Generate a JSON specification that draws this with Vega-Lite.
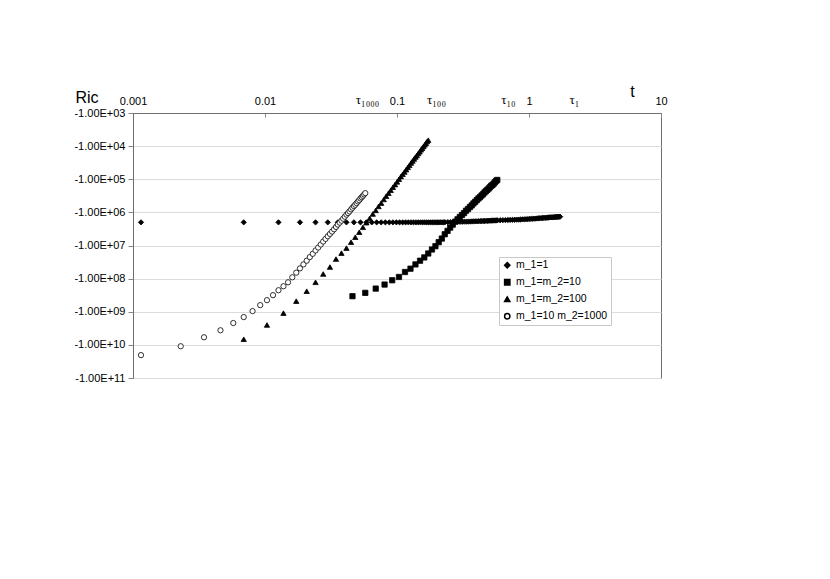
{
"$schema": "https://vega.github.io/schema/vega-lite/v6.json",
"width": 528, "height": 265,
"autosize": {"type": "none"},
"padding": {"left": 133, "top": 113, "right": 169, "bottom": 201},
"background": "white",
"config": {"font": "Liberation Sans", "view": {"stroke": "#6e6e6e", "strokeWidth": 1},
  "legend": {"strokeColor": "#c8c8c8", "fillColor": "white", "padding": 3,
      "labelFontSize": 10.5, "labelColor": "black", "labelOffset": 3.5,
      "symbolSize": 28, "rowPadding": 5}},
"data": {"values": [
{"series":"m_1=1","t":0.00115,"ric":-2.0e6},{"series":"m_1=1","t":0.0069,"ric":-2.0e6},{"series":"m_1=1","t":0.01265,"ric":-2.0e6},{"series":"m_1=1","t":0.0184,"ric":-2.0e6},{"series":"m_1=1","t":0.02415,"ric":-2.0e6},{"series":"m_1=1","t":0.0299,"ric":-2.0e6},{"series":"m_1=1","t":0.03565,"ric":-2.0e6},{"series":"m_1=1","t":0.0414,"ric":-2.0e6},{"series":"m_1=1","t":0.04715,"ric":-2.0e6},{"series":"m_1=1","t":0.0529,"ric":-2.0e6},{"series":"m_1=1","t":0.05865,"ric":-2.0e6},{"series":"m_1=1","t":0.0644,"ric":-2.0e6},{"series":"m_1=1","t":0.07015,"ric":-2.0e6},{"series":"m_1=1","t":0.0759,"ric":-2.0e6},{"series":"m_1=1","t":0.08165,"ric":-2.0e6},{"series":"m_1=1","t":0.0874,"ric":-2.0e6},{"series":"m_1=1","t":0.09315,"ric":-2.0e6},{"series":"m_1=1","t":0.0989,"ric":-2.0e6},{"series":"m_1=1","t":0.10465,"ric":-2.0e6},{"series":"m_1=1","t":0.1104,"ric":-2.0e6},{"series":"m_1=1","t":0.11615,"ric":-2.0e6},{"series":"m_1=1","t":0.1219,"ric":-2.0e6},{"series":"m_1=1","t":0.12765,"ric":-2.0e6},{"series":"m_1=1","t":0.1334,"ric":-2.0e6},{"series":"m_1=1","t":0.13915,"ric":-2.0e6},{"series":"m_1=1","t":0.1449,"ric":-2.0e6},{"series":"m_1=1","t":0.15065,"ric":-2.0e6},{"series":"m_1=1","t":0.1564,"ric":-2.0e6},{"series":"m_1=1","t":0.16215,"ric":-2.0e6},{"series":"m_1=1","t":0.1679,"ric":-2.0e6},{"series":"m_1=1","t":0.17365,"ric":-2.0e6},{"series":"m_1=1","t":0.1794,"ric":-2.0e6},{"series":"m_1=1","t":0.18515,"ric":-2.0e6},{"series":"m_1=1","t":0.1909,"ric":-2.0e6},{"series":"m_1=1","t":0.19665,"ric":-2.0e6},{"series":"m_1=1","t":0.2024,"ric":-2.0e6},{"series":"m_1=1","t":0.20815,"ric":-2.0e6},{"series":"m_1=1","t":0.2139,"ric":-2.0e6},{"series":"m_1=1","t":0.21965,"ric":-2.0e6},{"series":"m_1=1","t":0.2254,"ric":-2.0e6},{"series":"m_1=1","t":0.23115,"ric":-1.98e6},
{"series":"m_1=1","t":0.24265,"ric":-1.97e6},{"series":"m_1=1","t":0.25415,"ric":-1.96e6},{"series":"m_1=1","t":0.26565,"ric":-1.95e6},{"series":"m_1=1","t":0.27715,"ric":-1.94e6},{"series":"m_1=1","t":0.28865,"ric":-1.93e6},{"series":"m_1=1","t":0.30015,"ric":-1.92e6},{"series":"m_1=1","t":0.31165,"ric":-1.92e6},{"series":"m_1=1","t":0.32315,"ric":-1.91e6},{"series":"m_1=1","t":0.33465,"ric":-1.91e6},{"series":"m_1=1","t":0.34615,"ric":-1.9e6},{"series":"m_1=1","t":0.35765,"ric":-1.89e6},{"series":"m_1=1","t":0.36915,"ric":-1.88e6},{"series":"m_1=1","t":0.38065,"ric":-1.87e6},{"series":"m_1=1","t":0.39215,"ric":-1.86e6},{"series":"m_1=1","t":0.40365,"ric":-1.86e6},{"series":"m_1=1","t":0.41515,"ric":-1.85e6},{"series":"m_1=1","t":0.42665,"ric":-1.84e6},{"series":"m_1=1","t":0.43815,"ric":-1.83e6},{"series":"m_1=1","t":0.44965,"ric":-1.82e6},{"series":"m_1=1","t":0.46115,"ric":-1.82e6},{"series":"m_1=1","t":0.47265,"ric":-1.81e6},{"series":"m_1=1","t":0.48415,"ric":-1.8e6},{"series":"m_1=1","t":0.49565,"ric":-1.79e6},{"series":"m_1=1","t":0.50715,"ric":-1.78e6},{"series":"m_1=1","t":0.51865,"ric":-1.78e6},{"series":"m_1=1","t":0.53015,"ric":-1.77e6},{"series":"m_1=1","t":0.54165,"ric":-1.76e6},{"series":"m_1=1","t":0.55315,"ric":-1.76e6},{"series":"m_1=1","t":0.56465,"ric":-1.75e6},{"series":"m_1=1","t":0.57615,"ric":-1.74e6},
{"series":"m_1=1","t":0.6049,"ric":-1.73e6},{"series":"m_1=1","t":0.63365,"ric":-1.72e6},{"series":"m_1=1","t":0.6624,"ric":-1.71e6},{"series":"m_1=1","t":0.69115,"ric":-1.7e6},{"series":"m_1=1","t":0.7199,"ric":-1.69e6},{"series":"m_1=1","t":0.74865,"ric":-1.68e6},{"series":"m_1=1","t":0.7774,"ric":-1.67e6},{"series":"m_1=1","t":0.80615,"ric":-1.66e6},{"series":"m_1=1","t":0.8349,"ric":-1.65e6},{"series":"m_1=1","t":0.86365,"ric":-1.64e6},{"series":"m_1=1","t":0.8924,"ric":-1.63e6},{"series":"m_1=1","t":0.92115,"ric":-1.62e6},{"series":"m_1=1","t":0.9499,"ric":-1.61e6},{"series":"m_1=1","t":0.97865,"ric":-1.6e6},{"series":"m_1=1","t":1.0074,"ric":-1.58e6},{"series":"m_1=1","t":1.03615,"ric":-1.57e6},{"series":"m_1=1","t":1.0649,"ric":-1.56e6},{"series":"m_1=1","t":1.09365,"ric":-1.55e6},{"series":"m_1=1","t":1.1224,"ric":-1.54e6},{"series":"m_1=1","t":1.15115,"ric":-1.52e6},{"series":"m_1=1","t":1.1799,"ric":-1.51e6},{"series":"m_1=1","t":1.20865,"ric":-1.5e6},{"series":"m_1=1","t":1.2374,"ric":-1.49e6},{"series":"m_1=1","t":1.26615,"ric":-1.48e6},{"series":"m_1=1","t":1.2949,"ric":-1.47e6},{"series":"m_1=1","t":1.32365,"ric":-1.46e6},{"series":"m_1=1","t":1.3524,"ric":-1.45e6},{"series":"m_1=1","t":1.38115,"ric":-1.44e6},{"series":"m_1=1","t":1.4099,"ric":-1.43e6},{"series":"m_1=1","t":1.43865,"ric":-1.42e6},{"series":"m_1=1","t":1.4674,"ric":-1.41e6},{"series":"m_1=1","t":1.49615,"ric":-1.41e6},{"series":"m_1=1","t":1.5249,"ric":-1.4e6},{"series":"m_1=1","t":1.55365,"ric":-1.39e6},{"series":"m_1=1","t":1.5824,"ric":-1.38e6},{"series":"m_1=1","t":1.61115,"ric":-1.38e6},{"series":"m_1=1","t":1.6399,"ric":-1.37e6},{"series":"m_1=1","t":1.66865,"ric":-1.36e6},{"series":"m_1=1","t":1.6974,"ric":-1.35e6},{"series":"m_1=1","t":1.7204,"ric":-1.35e6},
{"series":"m_1=m_2=10","t":0.046,"ric":-3.39e8},{"series":"m_1=m_2=10","t":0.0575,"ric":-2.69e8},{"series":"m_1=m_2=10","t":0.069,"ric":-2.0e8},{"series":"m_1=m_2=10","t":0.0805,"ric":-1.51e8},{"series":"m_1=m_2=10","t":0.092,"ric":-1.12e8},{"series":"m_1=m_2=10","t":0.1035,"ric":-8.91e7},{"series":"m_1=m_2=10","t":0.115,"ric":-6.31e7},{"series":"m_1=m_2=10","t":0.1265,"ric":-5.01e7},{"series":"m_1=m_2=10","t":0.138,"ric":-3.72e7},{"series":"m_1=m_2=10","t":0.1495,"ric":-2.88e7},{"series":"m_1=m_2=10","t":0.161,"ric":-2.29e7},{"series":"m_1=m_2=10","t":0.1725,"ric":-1.74e7},{"series":"m_1=m_2=10","t":0.184,"ric":-1.32e7},{"series":"m_1=m_2=10","t":0.1955,"ric":-1.05e7},{"series":"m_1=m_2=10","t":0.207,"ric":-7.94e6},{"series":"m_1=m_2=10","t":0.2185,"ric":-6.17e6},{"series":"m_1=m_2=10","t":0.23,"ric":-4.57e6},{"series":"m_1=m_2=10","t":0.2415,"ric":-3.63e6},{"series":"m_1=m_2=10","t":0.253,"ric":-2.88e6},{"series":"m_1=m_2=10","t":0.2645,"ric":-2.34e6},{"series":"m_1=m_2=10","t":0.276,"ric":-1.91e6},{"series":"m_1=m_2=10","t":0.2875,"ric":-1.62e6},{"series":"m_1=m_2=10","t":0.299,"ric":-1.38e6},{"series":"m_1=m_2=10","t":0.3105,"ric":-1.2e6},{"series":"m_1=m_2=10","t":0.322,"ric":-1.05e6},{"series":"m_1=m_2=10","t":0.3335,"ric":-8.91e5},{"series":"m_1=m_2=10","t":0.345,"ric":-7.94e5},{"series":"m_1=m_2=10","t":0.3565,"ric":-6.92e5},{"series":"m_1=m_2=10","t":0.368,"ric":-6.17e5},{"series":"m_1=m_2=10","t":0.3795,"ric":-5.37e5},{"series":"m_1=m_2=10","t":0.391,"ric":-4.79e5},{"series":"m_1=m_2=10","t":0.4025,"ric":-4.27e5},{"series":"m_1=m_2=10","t":0.414,"ric":-3.8e5},{"series":"m_1=m_2=10","t":0.4255,"ric":-3.47e5},{"series":"m_1=m_2=10","t":0.437,"ric":-3.09e5},{"series":"m_1=m_2=10","t":0.4485,"ric":-2.82e5},{"series":"m_1=m_2=10","t":0.46,"ric":-2.51e5},{"series":"m_1=m_2=10","t":0.4715,"ric":-2.29e5},{"series":"m_1=m_2=10","t":0.483,"ric":-2.09e5},{"series":"m_1=m_2=10","t":0.4945,"ric":-1.91e5},{"series":"m_1=m_2=10","t":0.506,"ric":-1.74e5},{"series":"m_1=m_2=10","t":0.5175,"ric":-1.58e5},{"series":"m_1=m_2=10","t":0.529,"ric":-1.48e5},{"series":"m_1=m_2=10","t":0.5405,"ric":-1.35e5},{"series":"m_1=m_2=10","t":0.552,"ric":-1.23e5},{"series":"m_1=m_2=10","t":0.5635,"ric":-1.12e5},{"series":"m_1=m_2=10","t":0.575,"ric":-1.05e5},
{"series":"m_1=m_2=100","t":0.0069,"ric":-6.76e9},{"series":"m_1=m_2=100","t":0.01035,"ric":-2.51e9},{"series":"m_1=m_2=100","t":0.0138,"ric":-1.1e9},{"series":"m_1=m_2=100","t":0.01725,"ric":-4.79e8},{"series":"m_1=m_2=100","t":0.0207,"ric":-2.4e8},{"series":"m_1=m_2=100","t":0.02415,"ric":-1.29e8},{"series":"m_1=m_2=100","t":0.0276,"ric":-7.24e7},{"series":"m_1=m_2=100","t":0.03105,"ric":-4.47e7},{"series":"m_1=m_2=100","t":0.0345,"ric":-2.57e7},{"series":"m_1=m_2=100","t":0.03795,"ric":-1.7e7},{"series":"m_1=m_2=100","t":0.0414,"ric":-1.2e7},{"series":"m_1=m_2=100","t":0.04485,"ric":-7.94e6},{"series":"m_1=m_2=100","t":0.0483,"ric":-5.62e6},{"series":"m_1=m_2=100","t":0.05175,"ric":-3.98e6},{"series":"m_1=m_2=100","t":0.0552,"ric":-2.82e6},{"series":"m_1=m_2=100","t":0.05865,"ric":-2.04e6},{"series":"m_1=m_2=100","t":0.0621,"ric":-1.51e6},{"series":"m_1=m_2=100","t":0.06555,"ric":-1.12e6},{"series":"m_1=m_2=100","t":0.069,"ric":-8.71e5},{"series":"m_1=m_2=100","t":0.07245,"ric":-6.61e5},{"series":"m_1=m_2=100","t":0.0759,"ric":-5.25e5},{"series":"m_1=m_2=100","t":0.07935,"ric":-4.07e5},{"series":"m_1=m_2=100","t":0.0828,"ric":-3.24e5},{"series":"m_1=m_2=100","t":0.08625,"ric":-2.63e5},{"series":"m_1=m_2=100","t":0.0897,"ric":-2.14e5},{"series":"m_1=m_2=100","t":0.09315,"ric":-1.74e5},{"series":"m_1=m_2=100","t":0.0966,"ric":-1.45e5},{"series":"m_1=m_2=100","t":0.10005,"ric":-1.2e5},{"series":"m_1=m_2=100","t":0.1035,"ric":-1.0e5},{"series":"m_1=m_2=100","t":0.10695,"ric":-8.32e4},{"series":"m_1=m_2=100","t":0.1104,"ric":-7.08e4},{"series":"m_1=m_2=100","t":0.11385,"ric":-6.03e4},{"series":"m_1=m_2=100","t":0.1173,"ric":-5.13e4},{"series":"m_1=m_2=100","t":0.12075,"ric":-4.37e4},{"series":"m_1=m_2=100","t":0.1242,"ric":-3.8e4},{"series":"m_1=m_2=100","t":0.12765,"ric":-3.24e4},{"series":"m_1=m_2=100","t":0.1311,"ric":-2.82e4},{"series":"m_1=m_2=100","t":0.13455,"ric":-2.45e4},{"series":"m_1=m_2=100","t":0.138,"ric":-2.14e4},{"series":"m_1=m_2=100","t":0.14145,"ric":-1.91e4},{"series":"m_1=m_2=100","t":0.1449,"ric":-1.66e4},{"series":"m_1=m_2=100","t":0.14835,"ric":-1.48e4},{"series":"m_1=m_2=100","t":0.1518,"ric":-1.29e4},{"series":"m_1=m_2=100","t":0.15525,"ric":-1.15e4},{"series":"m_1=m_2=100","t":0.1587,"ric":-1.02e4},{"series":"m_1=m_2=100","t":0.16215,"ric":-9.12e3},{"series":"m_1=m_2=100","t":0.1656,"ric":-8.13e3},{"series":"m_1=m_2=100","t":0.16905,"ric":-7.24e3},{"series":"m_1=m_2=100","t":0.1725,"ric":-6.61e3},
{"series":"m_1=10 m_2=1000","t":0.00115,"ric":-2.04e10},{"series":"m_1=10 m_2=1000","t":0.0023,"ric":-1.1e10},{"series":"m_1=10 m_2=1000","t":0.00345,"ric":-5.89e9},{"series":"m_1=10 m_2=1000","t":0.0046,"ric":-3.63e9},{"series":"m_1=10 m_2=1000","t":0.00575,"ric":-2.19e9},{"series":"m_1=10 m_2=1000","t":0.0069,"ric":-1.45e9},{"series":"m_1=10 m_2=1000","t":0.00805,"ric":-9.55e8},{"series":"m_1=10 m_2=1000","t":0.0092,"ric":-6.31e8},{"series":"m_1=10 m_2=1000","t":0.01035,"ric":-4.47e8},{"series":"m_1=10 m_2=1000","t":0.0115,"ric":-3.16e8},{"series":"m_1=10 m_2=1000","t":0.01265,"ric":-2.24e8},{"series":"m_1=10 m_2=1000","t":0.0138,"ric":-1.7e8},{"series":"m_1=10 m_2=1000","t":0.01495,"ric":-1.29e8},{"series":"m_1=10 m_2=1000","t":0.0161,"ric":-9.12e7},{"series":"m_1=10 m_2=1000","t":0.01725,"ric":-6.61e7},{"series":"m_1=10 m_2=1000","t":0.0184,"ric":-4.9e7},{"series":"m_1=10 m_2=1000","t":0.01955,"ric":-3.72e7},{"series":"m_1=10 m_2=1000","t":0.0207,"ric":-2.88e7},{"series":"m_1=10 m_2=1000","t":0.02185,"ric":-2.24e7},{"series":"m_1=10 m_2=1000","t":0.023,"ric":-1.78e7},{"series":"m_1=10 m_2=1000","t":0.02415,"ric":-1.41e7},{"series":"m_1=10 m_2=1000","t":0.0253,"ric":-1.15e7},{"series":"m_1=10 m_2=1000","t":0.02645,"ric":-9.33e6},{"series":"m_1=10 m_2=1000","t":0.0276,"ric":-7.59e6},{"series":"m_1=10 m_2=1000","t":0.02875,"ric":-6.31e6},{"series":"m_1=10 m_2=1000","t":0.0299,"ric":-5.25e6},{"series":"m_1=10 m_2=1000","t":0.03105,"ric":-4.47e6},{"series":"m_1=10 m_2=1000","t":0.0322,"ric":-3.8e6},{"series":"m_1=10 m_2=1000","t":0.03335,"ric":-3.24e6},{"series":"m_1=10 m_2=1000","t":0.0345,"ric":-2.75e6},{"series":"m_1=10 m_2=1000","t":0.03565,"ric":-2.34e6},{"series":"m_1=10 m_2=1000","t":0.0368,"ric":-2.04e6},{"series":"m_1=10 m_2=1000","t":0.03795,"ric":-1.78e6},{"series":"m_1=10 m_2=1000","t":0.0391,"ric":-1.55e6},{"series":"m_1=10 m_2=1000","t":0.04025,"ric":-1.35e6},{"series":"m_1=10 m_2=1000","t":0.0414,"ric":-1.17e6},{"series":"m_1=10 m_2=1000","t":0.04255,"ric":-1.05e6},{"series":"m_1=10 m_2=1000","t":0.0437,"ric":-9.33e5},{"series":"m_1=10 m_2=1000","t":0.04485,"ric":-8.13e5},{"series":"m_1=10 m_2=1000","t":0.046,"ric":-7.24e5},{"series":"m_1=10 m_2=1000","t":0.04715,"ric":-6.46e5},{"series":"m_1=10 m_2=1000","t":0.0483,"ric":-5.89e5},{"series":"m_1=10 m_2=1000","t":0.04945,"ric":-5.25e5},{"series":"m_1=10 m_2=1000","t":0.0506,"ric":-4.68e5},{"series":"m_1=10 m_2=1000","t":0.05175,"ric":-4.27e5},{"series":"m_1=10 m_2=1000","t":0.0529,"ric":-3.8e5},{"series":"m_1=10 m_2=1000","t":0.05405,"ric":-3.47e5},{"series":"m_1=10 m_2=1000","t":0.0552,"ric":-3.16e5},{"series":"m_1=10 m_2=1000","t":0.05635,"ric":-2.88e5},{"series":"m_1=10 m_2=1000","t":0.0575,"ric":-2.63e5}
]},
"mark": {"type": "point", "filled": true, "opacity": 1, "stroke": "black", "strokeWidth": 0.8, "size": 28},
"encoding": {
  "x": {"field": "t", "type": "quantitative",
    "scale": {"type": "log", "domain": [0.001, 10], "nice": false},
    "axis": {"orient": "top", "values": [0.001, 0.01, 0.0593, 0.1, 0.1975, 0.693, 1, 2.19, 10],
      "format": "~g",
      "labelExpr": "datum.value > 0.05 && datum.value < 0.07 ? 'τ₁₀₀₀' : datum.value > 0.15 && datum.value < 0.25 ? 'τ₁₀₀' : datum.value > 0.6 && datum.value < 0.8 ? 'τ₁₀' : datum.value > 2 && datum.value < 3 ? 'τ₁' : datum.label",
      "labelOverlap": false, "labelBound": false, "labelFlush": false,
      "grid": false, "domain": true, "domainColor": "#6e6e6e",
      "tickSize": -4, "tickColor": "#888888",
      "tickOpacity": {"condition": {"test": "abs(log(datum.value)/LN10 - round(log(datum.value)/LN10)) > 0.05", "value": 0}, "value": 1},
      "labelPadding": 11,
      "labelColor": "black",
      "labelFontSize": {"condition": {"test": "abs(log(datum.value)/LN10 - round(log(datum.value)/LN10)) > 0.05", "value": 13}, "value": 11},
      "labelFont": {"condition": {"test": "abs(log(datum.value)/LN10 - round(log(datum.value)/LN10)) > 0.05", "value": "Liberation Serif"}, "value": "Liberation Sans"},
      "title": "t", "titleFontSize": 16, "titleFontWeight": "normal", "titleColor": "black",
      "titleX": 499, "titleY": -17, "titleAlign": "center", "titleBaseline": "alphabetic"}},
  "y": {"field": "ric", "type": "quantitative",
    "scale": {"type": "log", "domain": [-1e11, -1e3], "nice": false},
    "axis": {"values": [-1e3, -1e4, -1e5, -1e6, -1e7, -1e8, -1e9, -1e10, -1e11],
      "labelExpr": "'-1.00E+' + (datum.value > -1e10 ? '0' : '') + round(log(-datum.value)/LN10)",
      "labelOverlap": false, "labelFontSize": 11, "labelColor": "black", "labelPadding": 3,
      "domain": true, "domainColor": "#6e6e6e", "tickSize": 5, "tickColor": "#888888",
      "grid": true, "gridColor": "#dcdcdc",
      "title": "Ric", "titleAngle": 0, "titleX": -58, "titleY": -11, "titleAlign": "left", "titleBaseline": "alphabetic",
      "titleFontSize": 16, "titleFontWeight": "normal", "titleColor": "black"}},
  "shape": {"field": "series", "type": "nominal",
    "scale": {"domain": ["m_1=1", "m_1=m_2=10", "m_1=m_2=100", "m_1=10 m_2=1000"], "range": ["diamond", "square", "triangle-up", "circle"]},
    "legend": {"title": null, "orient": "none", "legendX": 366, "legendY": 144,
      "encode": {"symbols": {"update": {"stroke": {"value": "black"}, "strokeWidth": {"value": 0.8}}}}}},
  "fill": {"field": "series", "type": "nominal",
    "scale": {"domain": ["m_1=1", "m_1=m_2=10", "m_1=m_2=100", "m_1=10 m_2=1000"], "range": ["black", "black", "black", "white"]},
    "legend": {"title": null, "orient": "none", "legendX": 366, "legendY": 144,
      "encode": {"symbols": {"update": {"stroke": {"value": "black"}, "strokeWidth": {"value": 0.8}}}}}}
}
}
